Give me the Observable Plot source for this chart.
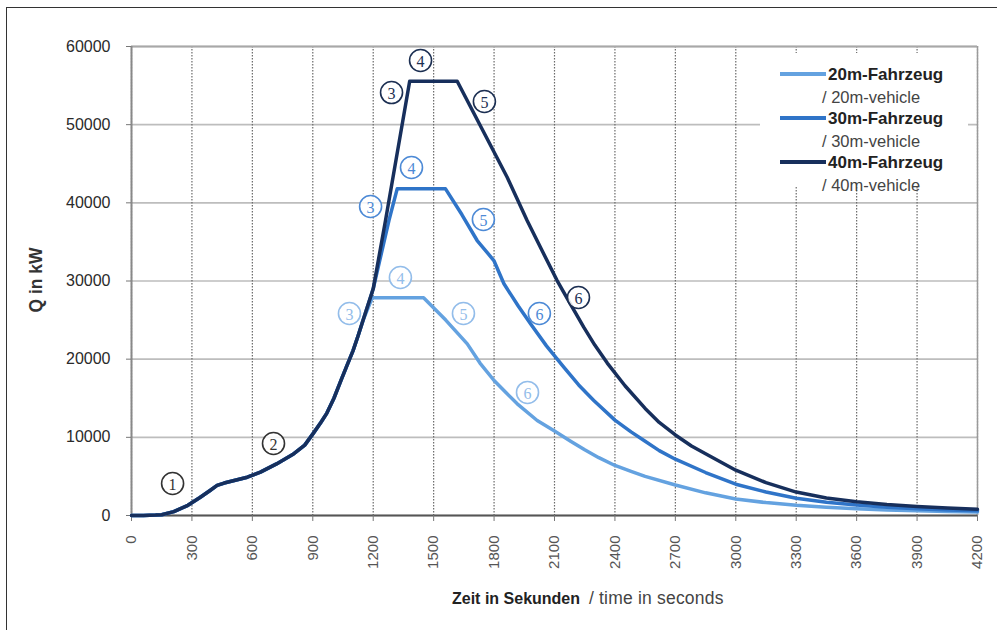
<!DOCTYPE html>
<html><head><meta charset="utf-8">
<script src="https://cdn.jsdelivr.net/npm/d3@7"></script>
<script src="https://cdn.jsdelivr.net/npm/@observablehq/plot@0.6"></script>
<style>
body{margin:0;background:#fff;}
#wrap{position:relative;width:997px;height:630px;overflow:hidden;font-family:"Liberation Sans",Arial,sans-serif;background:#fff;}
#frame{position:absolute;left:6px;top:7px;width:1200px;height:1000px;border-left:1.5px solid #333;border-top:1.5px solid #333;box-sizing:border-box;}
#chart{position:absolute;left:0;top:0;}
.ov{position:absolute;white-space:nowrap;}
#legend{position:absolute;left:760px;top:53px;width:208px;height:134px;background:#fff;}
.lg{position:absolute;white-space:nowrap;line-height:1;}
.sw{position:absolute;height:4px;width:46px;}
</style></head>
<body><div id="wrap"><div id="frame"></div><div id="chart"></div></div>
<script>
// ---- data ----
const seriesNames = ["20m-Fahrzeug", "30m-Fahrzeug", "40m-Fahrzeug"];
const seriesSub = ["/ 20m-vehicle", "/ 30m-vehicle", "/ 40m-vehicle"];
const seriesColors = ["#64a2e0", "#2f74c8", "#172f5c"];
const labelColors = ["#93bdea", "#4d8ad6", "#1c2f52"];

// shared growth phase (seconds, kW)
const riseT = [0, 60, 120, 150, 210, 280, 340, 390, 425, 460, 510, 575, 640, 720, 800, 860, 905, 940, 970, 1005, 1040, 1070, 1100, 1125, 1150];
const riseQ = [0, 0, 50, 100, 500, 1300, 2300, 3200, 3850, 4150, 4480, 4900, 5550, 6600, 7800, 9000, 10600, 11900, 13100, 15000, 17300, 19200, 21100, 23000, 25000];

const t20 = [1195, 1450, 1560, 1667, 1730, 1800, 1860, 1915, 2014, 2100, 2180, 2250, 2320, 2400, 2480, 2550, 2700, 2850, 3000, 3150, 3300, 3450, 3600, 3750, 3900, 4050, 4200];
const q20 = [27850, 27850, 25000, 21960, 19500, 17270, 15700, 14290, 12150, 10800, 9500, 8400, 7400, 6400, 5650, 5000, 3900, 2900, 2100, 1650, 1300, 1050, 850, 700, 600, 520, 450];

const t30 = [1200, 1278, 1319, 1559, 1640, 1716, 1799, 1849, 1920, 1981, 2060, 2146, 2220, 2295, 2400, 2480, 2550, 2620, 2700, 2850, 3000, 3150, 3300, 3450, 3600, 3750, 3900, 4050, 4200];
const q30 = [29000, 37740, 41790, 41790, 38500, 35180, 32620, 29640, 26800, 24520, 21700, 18970, 16700, 14710, 12200, 10700, 9500, 8300, 7200, 5500, 4000, 3000, 2200, 1700, 1350, 1050, 850, 700, 600];

const t40 = [1200, 1261, 1381, 1617, 1865, 1964, 2040, 2113, 2180, 2245, 2300, 2362, 2450, 2550, 2620, 2700, 2780, 2850, 3000, 3150, 3300, 3450, 3600, 3750, 3900, 4050, 4200];
const q40 = [29000, 37740, 55560, 55560, 43280, 37740, 33800, 30060, 27000, 24090, 21800, 19500, 16600, 13700, 11900, 10300, 8900, 7900, 5800, 4200, 3000, 2250, 1750, 1400, 1150, 950, 800];

// phase markers (circled numbers)
const phaseNum = ["1", "2", "3", "4", "5", "6", "3", "4", "5", "6", "3", "4", "5", "6"];
const phaseT = [204, 705, 1291, 1435, 1752, 2219, 1187, 1390, 1747, 2025, 1082, 1335, 1648, 1966];
const phaseQ = [4090, 9210, 54110, 58210, 52960, 27890, 39530, 44520, 37870, 25840, 25840, 30450, 25840, 15740];
const phaseSeries = [-1, -1, 2, 2, 2, 2, 1, 1, 1, 1, 0, 0, 0, 0];

const xTicks = [0, 300, 600, 900, 1200, 1500, 1800, 2100, 2400, 2700, 3000, 3300, 3600, 3900, 4200];
const yTicks = [0, 10000, 20000, 30000, 40000, 50000, 60000];

// ---- build table ----
const tails = [[t20, q20], [t30, q30], [t40, q40]];
const rows = [];
seriesNames.forEach((s, k) => {
  riseT.forEach((t, i) => rows.push({s, t, q: riseQ[i]}));
  tails[k][0].forEach((t, i) => rows.push({s, t, q: tails[k][1][i]}));
});
const markers = phaseNum.map((n, i) => ({n, t: phaseT[i], q: phaseQ[i],
  c: phaseSeries[i] < 0 ? "#333" : labelColors[phaseSeries[i]]}));

const chart = Plot.plot({
  width: 997, height: 630,
  marginLeft: 131, marginRight: 20, marginTop: 46, marginBottom: 115,
  style: {fontFamily: "'Liberation Sans', Arial, sans-serif", fontSize: "15px", background: "transparent"},
  x: {domain: [0, 4200]},
  y: {domain: [0, 60000]},
  color: {domain: seriesNames, range: seriesColors},
  marks: [
    Plot.gridY(yTicks, {stroke: "#bdbdbd", strokeOpacity: 1, strokeWidth: 1.6}),
    Plot.gridX(xTicks, {stroke: "#6a6a6a", strokeOpacity: 1, strokeWidth: 1.2, strokeDasharray: "1.5,1.5"}),
    Plot.ruleX([4200], {stroke: "#9a9a9a", strokeWidth: 1.5}),
    Plot.ruleY([60000], {stroke: "#a8a8a8", strokeWidth: 2}),
    Plot.ruleX([0], {stroke: "#888", strokeWidth: 2}),
    Plot.ruleY([0], {stroke: "#555", strokeWidth: 2}),
    Plot.axisY(yTicks, {tickSize: 5, tickPadding: 16, fill: "#2a2a2a", stroke: "#777", fontSize: 16, label: null, tickFormat: d => String(d)}),
    Plot.axisX(xTicks, {tickSize: 6, tickPadding: 14, tickRotate: -90, fill: "#555", stroke: "#777", fontSize: 15, label: null, tickFormat: d => String(d)}),
    Plot.line(rows, {x: "t", y: "q", z: "s", stroke: "s", strokeWidth: 3.5, curve: "linear"}),
    Plot.dot(markers, {x: "t", y: "q", r: 11, fill: "#fff", fillOpacity: 0.85, stroke: "c", strokeWidth: 1.6}),
    Plot.text(markers, {x: "t", y: "q", text: "n", fill: "c", fontSize: 16, fontFamily: "'Liberation Serif', 'DejaVu Serif', serif", dy: 1})
  ]
});
document.getElementById("chart").appendChild(chart);

// ---- overlays: legend, axis titles ----
const wrap = document.getElementById("wrap");
const lg = document.createElement("div");
lg.id = "legend";
wrap.appendChild(lg);
const legY = [74, 118, 162];
seriesNames.forEach((s, i) => {
  const sw = document.createElement("div");
  sw.className = "sw";
  sw.style.left = (780 - 760) + "px";
  sw.style.top = (legY[i] - 53 - 2) + "px";
  sw.style.background = seriesColors[i];
  lg.appendChild(sw);
  const a = document.createElement("div");
  a.className = "lg";
  a.textContent = s;
  a.style.cssText += "left:" + (828 - 760) + "px;top:" + (legY[i] - 53 - 8.5) + "px;font-weight:bold;font-size:17px;color:#222;";
  lg.appendChild(a);
  const b = document.createElement("div");
  b.className = "lg";
  b.textContent = seriesSub[i];
  b.style.cssText += "left:" + (822 - 760) + "px;top:" + (legY[i] + 23 - 53 - 8) + "px;font-size:16.5px;color:#444;";
  lg.appendChild(b);
});

const xl = document.createElement("div");
xl.className = "ov";
xl.style.cssText += "left:452px;top:588px;font-size:16px;color:#222;";
xl.innerHTML = "<b>Zeit in Sekunden</b>&nbsp; <span style='color:#444;font-size:17.5px;letter-spacing:0.2px'>/ time in seconds</span>";
wrap.appendChild(xl);

const yl = document.createElement("div");
yl.className = "ov";
yl.style.cssText += "left:36px;top:280px;font-size:17.5px;font-weight:bold;color:#333;transform:translate(-50%,-50%) rotate(-90deg);";
yl.textContent = "Q in kW";
wrap.appendChild(yl);
</script></body></html>
